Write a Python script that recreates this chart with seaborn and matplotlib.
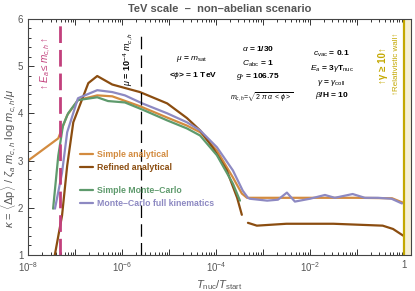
import matplotlib
matplotlib.use("Agg")
import matplotlib.pyplot as plt
import matplotlib.ticker as mticker
import numpy as np
import pandas as pd
import seaborn as sns

# Curves: log10(T_nuc/T_start) and kappa
simple_an_logt = [-8.0, -7.36, -7.17, -6.94, -6.53, -6.21, -5.62, -5.04, -4.62,
                  -4.34, -3.98, -3.64, -3.45, -3.34, -3.0, -2.0, -1.0, -0.25, 0.0]
simple_an_k = [3.0, 3.47, 3.96, 4.28, 4.38, 4.36, 4.15, 3.91, 3.74,
               3.6, 3.21, 2.64, 2.3, 2.21, 2.21, 2.21, 2.21, 2.2, 2.1]

refined_a_logt = [-7.47, -7.28, -7.17, -7.04, -6.72, -6.53, -6.21, -5.62, -5.04,
                  -4.62, -4.34, -4.06, -3.77, -3.55, -3.45]
refined_a_k = [0.8, 1.83, 2.89, 3.81, 4.64, 4.79, 4.61, 4.45, 4.21,
               3.9, 3.64, 3.26, 2.79, 2.21, 1.85]
refined_b_logt = [-3.32, -3.13, -2.5, -1.5, -0.45, -0.23, 0.0]
refined_b_k = [1.68, 1.62, 1.66, 1.66, 1.62, 1.55, 1.40]

simple_mc_logt = [-7.47, -7.36, -7.26, -7.15, -6.94, -6.53, -6.30, -5.94, -5.57,
                  -5.04, -4.62, -4.34, -3.98, -3.64, -3.49]
simple_mc_k = [1.98, 3.1, 3.74, 4.0, 4.28, 4.34, 4.26, 4.23, 4.08,
               3.85, 3.68, 3.53, 3.11, 2.51, 2.15]

full_mc_logt = [-7.43, -7.28, -7.17, -6.94, -6.53, -6.21, -5.94, -5.57, -5.04,
                -4.62, -4.34, -3.98, -3.64, -3.43, -3.32, -3.28, -2.91, -2.68,
                -2.49, -2.32, -2.0, -1.68, -1.47, -1.09, -0.83, -0.55, -0.26, -0.04]
full_mc_k = [1.98, 2.74, 3.6, 4.32, 4.49, 4.45, 4.38, 4.21, 4.0,
             3.81, 3.64, 3.28, 2.79, 2.36, 2.21, 2.19, 2.15, 2.17,
             2.32, 2.13, 2.19, 2.27, 2.21, 2.29, 2.21, 2.21, 2.19, 2.09]

t_ea = 4.8e-8      # E_a <= m_c,h boundary
t_mu = 2.5e-6      # mu = 1e-4 m_c,h
t_wall = 1.0       # relativistic wall

c_orange = "#d38b3f"
c_brown = "#8b4d10"
c_green = "#5e9a6c"
c_purple = "#8d89c2"
c_magenta = "#c2407c"
c_yellow = "#c4a800"
c_grey = "#555555"

sns.set_style("ticks")
plt.rcParams["font.family"] = ["Liberation Sans", "DejaVu Sans"]
plt.rcParams["mathtext.fontset"] = "custom"
plt.rcParams["mathtext.rm"] = "Liberation Sans"
plt.rcParams["mathtext.it"] = "Liberation Sans:italic"
plt.rcParams["mathtext.bf"] = "Liberation Sans:bold"

fig, ax = plt.subplots(figsize=(4.15, 2.91), dpi=100)
fig.subplots_adjust(left=0.068, right=0.99, top=0.935, bottom=0.124)


def draw(logt, k, color, label=None):
    df = pd.DataFrame({"t": 10.0 ** np.array(logt), "k": k})
    sns.lineplot(data=df, x="t", y="k", color=color, lw=1.6, ax=ax,
                 label=label, legend=False)


draw(simple_an_logt, simple_an_k, c_orange, "Simple analytical")
draw(refined_a_logt, refined_a_k, c_brown, "Refined analytical")
draw(refined_b_logt, refined_b_k, c_brown)
draw(simple_mc_logt, simple_mc_k, c_green, "Simple Monte\u2013Carlo")
draw(full_mc_logt, full_mc_k, c_purple, "Monte\u2013Carlo full kinematics")

ax.set_xscale("log")
ax.set_xlim(1e-8, 10 ** 0.15)
ax.set_ylim(1, 6)

# vertical markers
ax.axvline(t_ea, color=c_magenta, lw=2.0, dashes=(6, 2.5), ymax=0.99)
ax.axvline(t_mu, color="black", lw=0.9, dashes=(10, 5), ymax=0.95)
ax.axvspan(t_wall, 10 ** 0.15, color="#f6f0d4", lw=0)
ax.axvline(t_wall, color=c_yellow, lw=1.6)

# ticks in Mathematica style
ax.xaxis.set_major_locator(mticker.LogLocator(base=10, numticks=20))
ax.xaxis.set_minor_locator(mticker.LogLocator(base=10, subs=np.arange(2, 10),
                                              numticks=20))


def xfmt(v, pos):
    e = int(round(np.log10(v)))
    if e % 2:
        return ""
    return "1" if e == 0 else r"$10^{%d}$" % e


ax.xaxis.set_major_formatter(mticker.FuncFormatter(xfmt))
ax.xaxis.set_minor_formatter(mticker.NullFormatter())
ax.yaxis.set_major_locator(mticker.MultipleLocator(1))
ax.yaxis.set_minor_locator(mticker.MultipleLocator(0.2))
ax.tick_params(which="both", direction="in", top=True, right=True,
               colors="#333333", labelcolor=c_grey, labelsize=7, width=0.7)
ax.tick_params(which="major", length=4)
ax.tick_params(which="minor", length=2)
for s in ax.spines.values():
    s.set_color("#444444")
    s.set_linewidth(0.8)

ax.set_xlabel(r"$T_{\rm nuc}/T_{\rm start}$", fontsize=8, color=c_grey, labelpad=3)
ax.set_ylabel(r"$\kappa$ = $\langle\Delta$p$\rangle$ / $\zeta_a$ $m_{c,h}$ log $m_{c,h}/\mu$",
              fontsize=8, color=c_grey)
ax.yaxis.set_label_coords(-0.027, 0.41)
ax.set_title("TeV scale  \u2013  non\u2013abelian scenario", fontsize=8,
             color=c_grey, fontweight="bold", pad=5)

# legends in two groups
h, l = ax.get_legend_handles_labels()
leg_kw = dict(frameon=False, handlelength=1.5, handletextpad=0.5,
              labelcolor="linecolor", labelspacing=0.45,
              prop={"size": 6.3, "weight": "bold"}, borderaxespad=0)
leg1 = ax.legend(h[:2], l[:2], loc="upper left", bbox_to_anchor=(0.125, 0.46),
                 **leg_kw)
ax.add_artist(leg1)
ax.legend(h[2:], l[2:], loc="upper left", bbox_to_anchor=(0.125, 0.305), **leg_kw)

# annotations
ax.text(0.045, 0.81, r"$\uparrow E_a \leq m_{c,h} \uparrow$", transform=ax.transAxes,
        rotation=90, ha="center", va="center", color=c_magenta, fontsize=7.2)
ax.text(0.263, 0.83, r"$\mu$ = 10$^{-4}$ $m_{c,h}$", transform=ax.transAxes,
        rotation=90, ha="center", va="center", color="black", fontsize=6.5,
        fontweight="bold")
ax.text(0.927, 0.8, "\u2191\u03b3 \u2265 10\u2191", transform=ax.transAxes,
        rotation=90, ha="center", va="center", color=c_yellow, fontsize=7,
        fontweight="bold")
ax.text(0.962, 0.81, "\u2191Relativistic wall\u2191", transform=ax.transAxes,
        rotation=90, ha="center", va="center", color=c_yellow, fontsize=5.8)

txt = dict(transform=ax.transAxes, ha="center", va="center", fontsize=6,
           fontweight="bold", color="black")
ax.text(0.428, 0.83, r"$\mu$ = $m_{\rm sat}$", **txt)
ax.text(0.43, 0.76, r"<$\phi$> = 1 TeV", **txt)
ax.text(0.6, 0.875, r"$\alpha$ = 1/30", **txt)
ax.text(0.6, 0.81, r"$C_{\rm abc}$ = 1", **txt)
ax.text(0.6, 0.755, r"$g_{*}$ = 106.75", **txt)
ax.text(0.61, 0.67, r"$m_{c,h}$=$\sqrt{2\ \pi\ \alpha\ <\phi>}$", transform=ax.transAxes,
        ha="center", va="center", fontsize=5, color="black")
ax.text(0.793, 0.85, r"$c_{\rm vac}$ = 0.1", **txt)
ax.text(0.793, 0.79, r"$E_a$ = 3$\gamma$T$_{\rm nuc}$", **txt)
ax.text(0.793, 0.73, r"$\gamma$ = $\gamma_{\rm coll}$", **txt)
ax.text(0.793, 0.675, r"$\beta$/H = 10", **txt)

fig.savefig("out.png", dpi=100)
